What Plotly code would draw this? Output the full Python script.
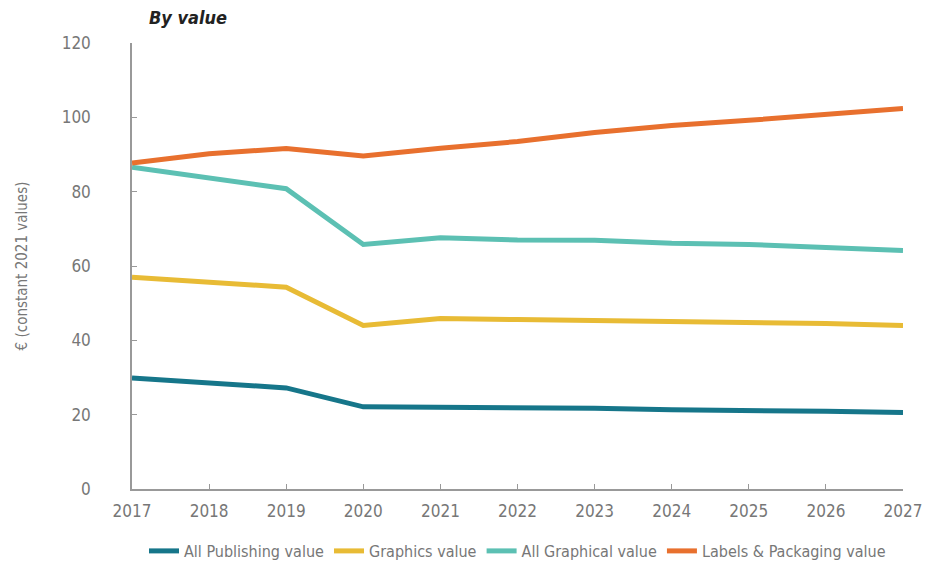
import plotly.graph_objects as go

years = [2017, 2018, 2019, 2020, 2021, 2022, 2023, 2024, 2025, 2026, 2027]
all_publishing = [29.9, 28.5, 27.2, 22.1, 22.0, 21.7, 21.7, 21.3, 21.2, 20.9, 20.6]
graphics = [57.0, 55.7, 54.3, 44.0, 45.9, 45.6, 45.4, 44.9, 44.8, 44.5, 44.0]
all_graphical = [86.6, 83.8, 80.8, 65.8, 67.6, 67.0, 66.9, 66.1, 65.8, 65.0, 64.2]
labels_packaging = [87.7, 90.2, 91.6, 89.6, 91.7, 93.5, 95.9, 97.8, 99.2, 100.8, 102.4]

series_names = ["All Publishing value", "Graphics value", "All Graphical value", "Labels & Packaging value"]
series_values = [all_publishing, graphics, all_graphical, labels_packaging]
colors = ["#16768a", "#e8bb35", "#5cc0b3", "#e8702e"]

FONT = "DejaVu Sans Condensed, Liberation Sans Narrow, sans-serif"

fig = go.Figure()
for name, vals, c in zip(series_names, series_values, colors):
    fig.add_trace(go.Scatter(x=years, y=vals, name=name, mode="lines",
                             line=dict(color=c, width=5)))

fig.update_layout(
    width=940, height=569,
    margin=dict(l=132, r=37, t=43, b=80, autoexpand=False),
    paper_bgcolor="white", plot_bgcolor="white",
    font=dict(family=FONT, color="#777777", size=16),
    showlegend=True,
    legend=dict(orientation="h", x=0.5, xanchor="center", y=-0.139, yanchor="middle",
                font=dict(size=16, color="#777777"), itemwidth=30, tracegroupgap=0),
    xaxis=dict(range=[2017, 2027], tickvals=years, ticktext=[str(y) for y in years],
               showgrid=False, zeroline=False, showline=True, linecolor="#999999",
               linewidth=1.5, ticks="inside", ticklen=5, tickcolor="#999999",
               ticklabelstandoff=6,
               tickfont=dict(size=17, color="#777777")),
    yaxis=dict(range=[0, 120], tickvals=[0, 20, 40, 60, 80, 100, 120],
               showgrid=False, zeroline=False, showline=True, linecolor="#999999",
               linewidth=1.5, ticks="inside", ticklen=5, tickcolor="#999999",
               ticklabelstandoff=36,
               tickfont=dict(size=17, color="#777777"),
               title=dict(text="€ (constant 2021 values)", font=dict(size=15, color="#777777"),
                          standoff=30)),
)
fig.add_annotation(text="<b><i>By value</i></b>", xref="paper", yref="paper",
                   x=0.02, y=1.0, yshift=26, xanchor="left", yanchor="middle",
                   showarrow=False, font=dict(family=FONT, size=18, color="#222222"))

fig.write_html("out.html")
